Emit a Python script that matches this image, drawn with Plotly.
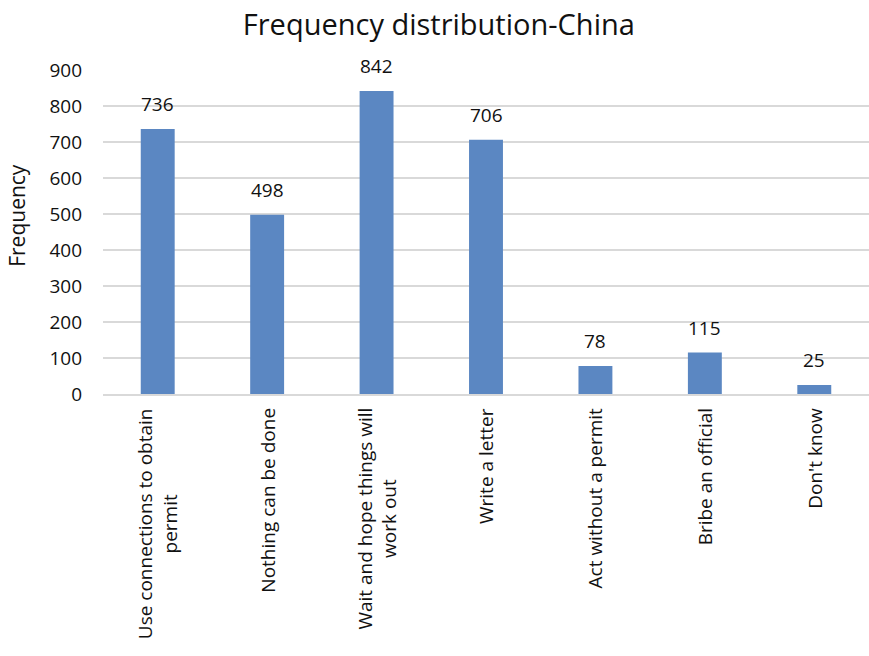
import plotly.graph_objects as go

# Responses and their counts
categories = [
    "Use connections to obtain<br>permit",
    "Nothing can be done",
    "Wait and hope things will<br>work out",
    "Write a letter",
    "Act without a permit",
    "Bribe an official",
    "Don't know",
]
frequency = [736, 498, 842, 706, 78, 115, 25]
y_ticks = [0, 100, 200, 300, 400, 500, 600, 700, 800, 900]

FONT = "Open Sans"
TEXT = "#111111"
BAR = "#5B87C2"
GRID = "#D9D9D9"

fig = go.Figure(
    go.Bar(
        x=categories,
        y=frequency,
        marker=dict(color=BAR, line=dict(width=0)),
        cliponaxis=False,
        hoverinfo="x+y",
    )
)

# Value labels above each bar
for c, v in zip(categories, frequency):
    fig.add_annotation(
        x=c, xref="x", y=v, yref="y",
        text=str(v), showarrow=False,
        xanchor="center", yanchor="bottom", yshift=10,
        font=dict(family=FONT, size=19, color=TEXT),
    )

# Category labels, rotated and centred line by line under each bar
for c in categories:
    fig.add_annotation(
        x=c, xref="x", y=0, yref="paper",
        text=c, textangle=-90, showarrow=False,
        xanchor="center", yanchor="top", align="center",
        yshift=-12,
        font=dict(family=FONT, size=19, color=TEXT),
    )

fig.add_annotation(
    x=0, xref="paper", y=0.55, yref="paper",
    xshift=-86, text="Frequency", textangle=-90, showarrow=False,
    xanchor="center", yanchor="middle",
    font=dict(family=FONT, size=21, color=TEXT),
)

fig.update_layout(
    width=869,
    height=656,
    margin=dict(l=103, r=0, t=70, b=262),
    paper_bgcolor="white",
    plot_bgcolor="white",
    bargap=0.69,
    showlegend=False,
    title=dict(
        text="Frequency distribution-China",
        x=0.505, xanchor="center", y=0.978, yanchor="top",
        font=dict(family=FONT, size=29, color=TEXT),
    ),
    xaxis=dict(
        showticklabels=False,
        showgrid=False,
        showline=True,
        linecolor=GRID,
        linewidth=2,
        ticks="",
    ),
    yaxis=dict(
        range=[0, 900],
        tickvals=y_ticks,
        showgrid=True,
        gridcolor=GRID,
        gridwidth=2,
        zeroline=False,
        showline=False,
        ticks="",
        ticklabelstandoff=20,
        tickfont=dict(family=FONT, size=19, color=TEXT),
    ),
)

fig.write_html("out.html")
